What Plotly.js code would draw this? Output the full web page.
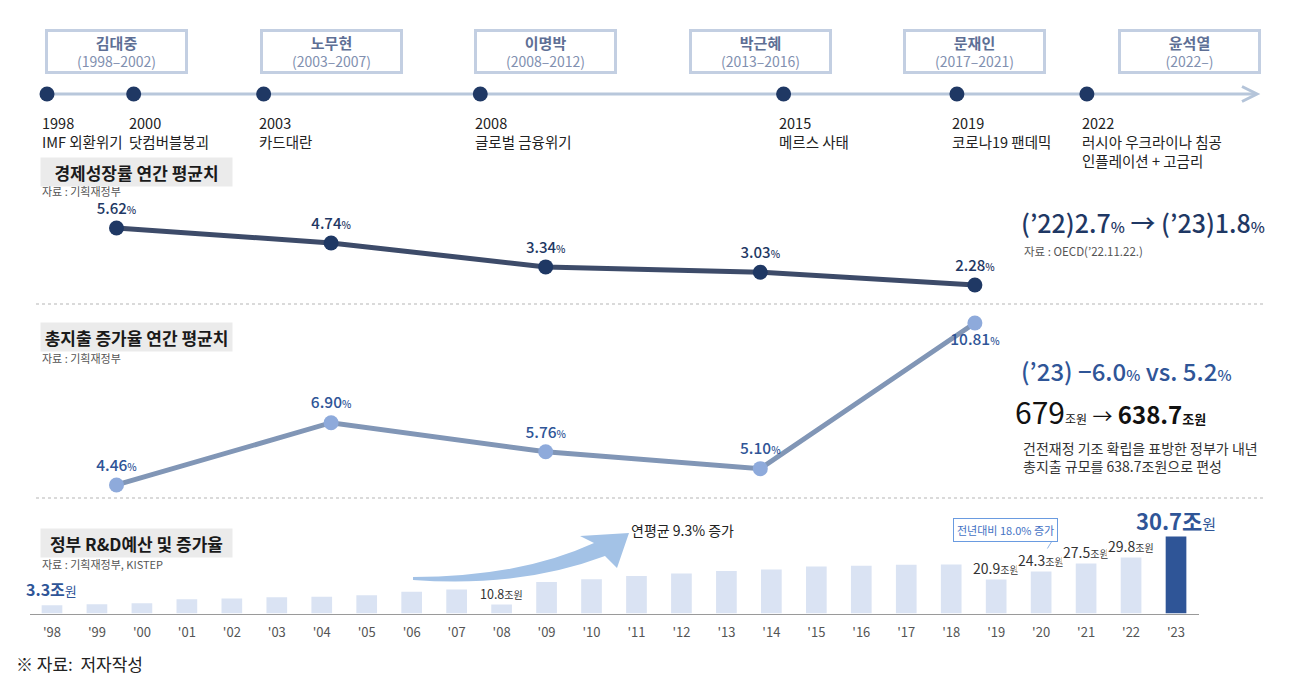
<!DOCTYPE html>
<html><head><meta charset="utf-8">
<script src="https://cdn.plot.ly/plotly-3.0.1.min.js"></script>
<style>html,body{margin:0;padding:0;background:#fff;}#chart{width:1307px;height:676px;}</style>
</head><body><div id="chart"></div>
<script>
// ---------- DATA ----------
const presNames = ['김대중','노무현','이명박','박근혜','문재인','윤석열'];
const presTerms = ['1998–2002','2003–2007','2008–2012','2013–2016','2017–2021','2022–'];
const eventYears = [1998, 2000, 2003, 2008, 2015, 2019, 2022];
const eventNames = ['IMF 외환위기','닷컴버블붕괴','카드대란','글로벌 금융위기','메르스 사태','코로나19 팬데믹','러시아 우크라이나 침공<br>인플레이션 + 고금리'];
const gdpGrowth = [5.62, 4.74, 3.34, 3.03, 2.28];
const spendGrowth = [4.46, 6.90, 5.76, 5.10, 10.81];
const rdLabels = ["'98","'99","'00","'01","'02","'03","'04","'05","'06","'07","'08","'09","'10","'11","'12","'13","'14","'15","'16","'17","'18","'19","'20","'21","'22","'23"];
const rdBudget = [3.3,3.7,4.1,5.7,6.0,6.5,6.7,7.3,8.7,9.6,10.8,12.6,13.7,15.0,16.0,17.0,17.6,18.7,19.0,19.4,19.5,20.9,24.3,27.5,29.8,30.7];
const rdLabeled = ["'08","'19","'20","'21","'22"];

// ---------- HELPERS ----------
const W = 1307, H = 676;
const FONT = '"Noto Sans CJK KR", "Noto Sans", sans-serif';
const px = x => x / W;
const py = y => 1 - y / H;
const P = (x, y) => px(x) + ',' + py(y);

const traces = [];
// Timeline dots
traces.push({
  type:'scatter', mode:'markers', x: eventYears, y: eventYears.map(() => 0),
  xaxis:'x3', yaxis:'y4', marker:{size:15, color:'#1f3864'}, hoverinfo:'skip', cliponaxis:false
});
// GDP growth line
traces.push({
  type:'scatter', mode:'lines+markers+text', x: presNames.slice(0, gdpGrowth.length), y: gdpGrowth,
  xaxis:'x', yaxis:'y', line:{color:'#3d4b69', width:5}, marker:{size:15, color:'#1f3864'},
  texttemplate:'%{y:.2f}<span style="font-size:10px">%</span>', textposition:'top center',
  textfont:{size:15, color:'#1f3864', weight:500}, cliponaxis:false, hoverinfo:'skip'
});
// Spending growth line
traces.push({
  type:'scatter', mode:'lines+markers+text', x: presNames.slice(0, spendGrowth.length), y: spendGrowth,
  xaxis:'x', yaxis:'y2', line:{color:'#8196b6', width:5}, marker:{size:15, color:'#8eaadb'},
  texttemplate:'%{y:.2f}<span style="font-size:10px">%</span>',
  textposition: spendGrowth.map((v, i) => i === spendGrowth.length - 1 ? 'bottom center' : 'top center'),
  textfont:{size:15.5, color:'#2f5597', weight:500}, cliponaxis:false, hoverinfo:'skip'
});
// R&D bars
traces.push({
  type:'bar', x: rdLabels, y: rdBudget, xaxis:'x2', yaxis:'y3', width:0.46,
  marker:{color: rdBudget.map((v, i) => i === rdBudget.length - 1 ? '#2f5597' : '#dae3f3')},
  hoverinfo:'skip'
});

const ann = [];
const A = o => ann.push(Object.assign({showarrow:false, xanchor:'center', yanchor:'middle'}, o));
// President boxes
presNames.forEach((n, i) => {
  A({xref:'x', yref:'paper', x:n, y:py(51),
    text:'<span style="font-size:15px;color:#5e6f95"><b>' + n + '</b></span><br>(' + presTerms[i] + ')',
    width:137, height:39, borderpad:0, bordercolor:'#c3cfe2', borderwidth:3, bgcolor:'#fff',
    font:{size:14, color:'#8190b0'}, align:'center', valign:'middle'});
});
// Timeline events
eventYears.forEach((yr, i) => {
  A({xref:'x3', yref:'paper', x:yr, xanchor:'left', xshift:-7, y:py(110), yanchor:'top',
    align:'left', text: yr + '<br>' + eventNames[i], font:{size:14.5, color:'#222'}});
});
// Section titles and sources
[['경제성장률 연간 평균치', 157, '자료 : 기획재정부', 190.5],
 ['총지출 증가율 연간 평균치', 322, '자료 : 기획재정부', 358],
 ['정부 R&D예산 및 증가율', 528, '자료 : 기획재정부, KISTEP', 564]].forEach(t => {
  A({xref:'paper', yref:'paper', x:px(40), xanchor:'left', y:py(t[1]), yanchor:'top',
    text:'<b>' + t[0] + '</b>', bgcolor:'#ebebeb', width:191, height:28, borderpad:0,
    font:{size:17, color:'#1a1a1a'}, align:'center', valign:'middle'});
  A({xref:'paper', yref:'paper', x:px(40), xanchor:'left', y:py(t[3]),
    text:t[2], font:{size:11, color:'#555'}});
});
// R&D bar labels
const first = 0, last = rdBudget.length - 1;
A({xref:'x2', yref:'y3', x:rdLabels[first], y:rdBudget[first], yanchor:'bottom', yshift:2,
  text:'<b>' + rdBudget[first].toFixed(1) + '조</b><span style="font-size:13px">원</span>', font:{size:16, color:'#2f5597'}});
A({xref:'x2', yref:'y3', x:rdLabels[last], y:rdBudget[last], yanchor:'bottom', yshift:-1,
  text:'<b>' + rdBudget[last].toFixed(1) + '조</b><span style="font-size:15px">원</span>', font:{size:22, color:'#2f5597'}});
rdLabeled.forEach(l => {
  const i = rdLabels.indexOf(l);
  A({xref:'x2', yref:'y3', x:l, y:rdBudget[i], yshift:-7,
    text: rdBudget[i].toFixed(1) + '<span style="font-size:10px">조원</span>', bgcolor:'#fff', borderpad:1,
    font:{size: l === "'08" ? 12.5 : 14, color:'#333'}});
});
// Callout
A({xref:'paper', yref:'paper', x:px(1005.5), y:py(529.5), text:'전년대비 18.0% 증가',
  font:{size:11, color:'#4472c4'}, bordercolor:'#6a9be0', borderwidth:1, borderpad:3, bgcolor:'#fff'});
A({xref:'paper', yref:'paper', x:px(629), xanchor:'left', y:py(530),
  text:'연평균 9.3% 증가', font:{size:14, color:'#222'}});
// Right side notes
A({xref:'paper', yref:'paper', x:px(1019), xanchor:'left', y:py(222),
  text:"(’22)2.7<span style=\"font-size:15px\">%</span> → (’23)1.8<span style=\"font-size:15px\">%</span>",
  font:{size:25, color:'#1f3864', weight:500}});
A({xref:'paper', yref:'paper', x:px(1022), xanchor:'left', y:py(251),
  text:"자료 : OECD(’22.11.22.)", font:{size:11.5, color:'#555'}});
A({xref:'paper', yref:'paper', x:px(1019), xanchor:'left', y:py(370),
  text:"(’23) −6.0<span style=\"font-size:15px\">%</span> vs. 5.2<span style=\"font-size:15px\">%</span>",
  font:{size:24, color:'#2f5597', weight:500}});
A({xref:'paper', yref:'paper', x:px(1013), xanchor:'left', y:py(411),
  text:'<span style="font-size:30px">679</span><span style="font-size:12px">조원</span> <span style="font-size:20px">→</span> <b>638.7</b><b><span style="font-size:13px">조원</span></b>',
  font:{size:24, color:'#111'}});
A({xref:'paper', yref:'paper', x:px(1021), xanchor:'left', y:py(457), align:'left',
  text:'건전재정 기조 확립을 표방한 정부가 내년<br>총지출 규모를 638.7조원으로 편성', font:{size:14, color:'#333'}});
// Footer
A({xref:'paper', yref:'paper', x:px(14), xanchor:'left', y:py(663),
  text:'※ 자료:  저자작성', font:{size:17, color:'#222'}});

const shapes = [
  {type:'line', xref:'paper', yref:'paper', x0:px(47), x1:px(1256), y0:py(94), y1:py(94), line:{color:'#b8c7db', width:3}, layer:'below'},
  {type:'path', xref:'paper', yref:'paper', path:'M' + P(1242,86.5) + ' L' + P(1257,94) + ' L' + P(1242,101.5), line:{color:'#b4c4d9', width:3}},
  {type:'line', xref:'paper', yref:'paper', x0:px(36), x1:px(1263), y0:py(304), y1:py(304), line:{color:'#b5b5b5', width:1, dash:'dot'}},
  {type:'line', xref:'paper', yref:'paper', x0:px(36), x1:px(1263), y0:py(498), y1:py(498), line:{color:'#b5b5b5', width:1, dash:'dot'}},
  {type:'path', xref:'paper', yref:'paper',
   path:'M' + P(413,577) + ' Q' + P(520,577) + ' ' + P(594,543) + ' L' + P(580,536) + ' L' + P(629,533) + ' L' + P(617,568) + ' L' + P(605,556) + ' Q' + P(520,588) + ' ' + P(413,580) + ' Z',
   fillcolor:'#a3c2e6', line:{width:0}},
  {type:'line', xref:'paper', yref:'paper', x0:px(1052), x1:px(1044), y0:py(541), y1:py(554), line:{color:'#8fb3e6', width:1}}
];

const layout = {
  width:W, height:H, margin:{l:0, r:0, t:0, b:0}, paper_bgcolor:'#fff', plot_bgcolor:'rgba(0,0,0,0)',
  showlegend:false, font:{family:FONT, color:'#222'}, hovermode:false,
  xaxis:{domain:[px(9.2), px(1296.8)], type:'category', categoryarray:presNames, range:[-0.5, 5.5], visible:false, fixedrange:true},
  yaxis:{domain:[py(300), py(200)], range:[1.40, 7.26], visible:false, fixedrange:true},
  yaxis2:{domain:[py(500), py(310)], range:[3.87, 11.32], visible:false, anchor:'x', fixedrange:true},
  xaxis2:{domain:[px(29.5), px(1198.5)], type:'category', range:[-0.5, 25.5], anchor:'y3', showline:true,
    linecolor:'#9a9a9a', linewidth:1.5, ticks:'', showgrid:false, zeroline:false, ticklabelstandoff:6,
    tickfont:{size:13, color:'#555'}, fixedrange:true},
  yaxis3:{domain:[py(613.5), py(520)], range:[0, 37.3], visible:false, anchor:'x2', fixedrange:true},
  xaxis3:{domain:[0, 1], range:[1996.915, 2027.08], visible:false, anchor:'y4', fixedrange:true},
  yaxis4:{domain:[py(104), py(84)], range:[-1, 1], visible:false, anchor:'x3', fixedrange:true},
  annotations:ann, shapes:shapes
};
Plotly.newPlot('chart', traces, layout, {displayModeBar:false, staticPlot:true});
</script></body></html>
